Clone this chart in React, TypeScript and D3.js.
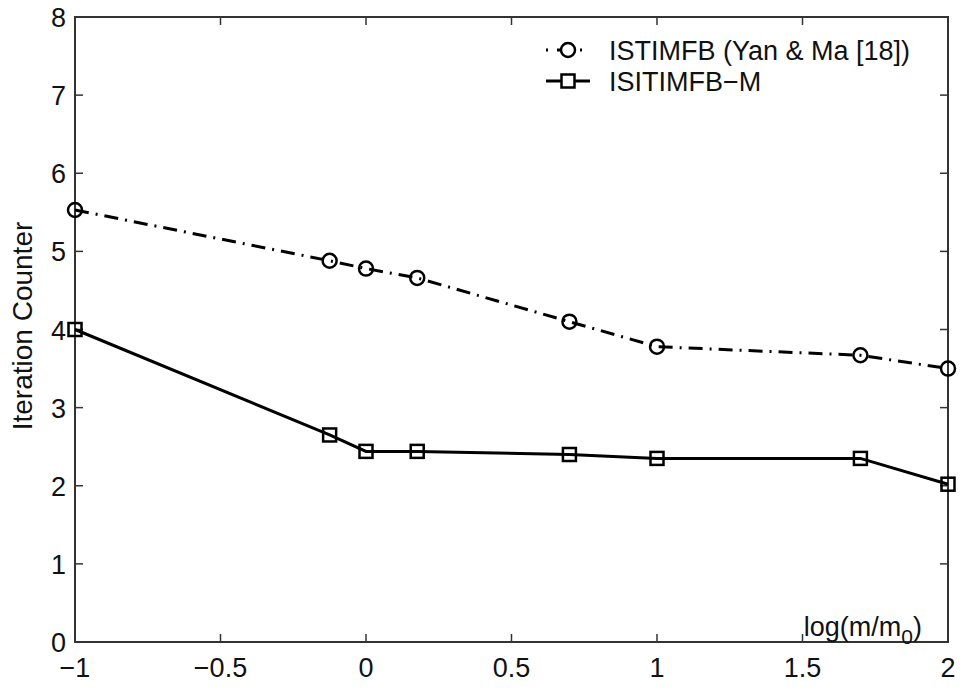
import React from "react";
import * as d3 from "d3";

const xValues = [-1, -0.125, 0, 0.176, 0.699, 1, 1.699, 2];
const seriesYan = [5.53, 4.88, 4.78, 4.66, 4.1, 3.78, 3.67, 3.5];
const seriesM = [4.0, 2.65, 2.44, 2.44, 2.4, 2.35, 2.35, 2.02];
const xTicks = [-1, -0.5, 0, 0.5, 1, 1.5, 2];
const yTicks = [0, 1, 2, 3, 4, 5, 6, 7, 8];
const legendLabels = ["ISTIMFB (Yan & Ma [18])", "ISITIMFB\u2212M"];

const W = 960, H = 690;
const L = 75, R = 948, T = 17, B = 642;
const font = "Liberation Sans, Arial, sans-serif";
const FS = 27;

export default function App() {
  const x = d3.scaleLinear().domain([-1, 2]).range([L, R]);
  const y = d3.scaleLinear().domain([0, 8]).range([B, T]);
  const line = d3.line<[number, number]>().x(d => x(d[0])).y(d => y(d[1]));
  const ptsA = xValues.map((v, i) => [v, seriesYan[i]] as [number, number]);
  const ptsB = xValues.map((v, i) => [v, seriesM[i]] as [number, number]);
  const fmt = (v: number) => (v < 0 ? "\u2212" + Math.abs(v) : String(v));
  const dash = "14,7,2,7";
  return (
    <svg width={W} height={H} style={{ position: "absolute", left: 0, top: 0, background: "#fff" }}>
      <rect x={0} y={0} width={W} height={H} fill="#fff" />
      {xTicks.map(t => (
        <g key={"x" + t}>
          <line x1={x(t)} x2={x(t)} y1={B} y2={B - 8} stroke="#333" strokeWidth={1.5} />
          <line x1={x(t)} x2={x(t)} y1={T} y2={T + 8} stroke="#333" strokeWidth={1.5} />
          <text x={x(t)} y={677} fontSize={FS} fontFamily={font} textAnchor="middle" fill="#111">{fmt(t)}</text>
        </g>
      ))}
      {yTicks.map(t => (
        <g key={"y" + t}>
          <line x1={L} x2={L + 8} y1={y(t)} y2={y(t)} stroke="#333" strokeWidth={1.5} />
          <line x1={R} x2={R - 8} y1={y(t)} y2={y(t)} stroke="#333" strokeWidth={1.5} />
          <text x={L - 9} y={y(t) + 10} fontSize={FS} fontFamily={font} textAnchor="end" fill="#111">{t}</text>
        </g>
      ))}
      <rect x={L} y={T} width={R - L} height={B - T} fill="none" stroke="#333" strokeWidth={2} />
      <path d={line(ptsA) || ""} fill="none" stroke="#000" strokeWidth={3} strokeDasharray={dash} />
      <path d={line(ptsB) || ""} fill="none" stroke="#000" strokeWidth={3} />
      {ptsA.map((p, i) => (
        <circle key={"c" + i} cx={x(p[0])} cy={y(p[1])} r={7} fill="none" stroke="#000" strokeWidth={2.5} />
      ))}
      {ptsB.map((p, i) => (
        <rect key={"s" + i} x={x(p[0]) - 6.5} y={y(p[1]) - 6.5} width={13} height={13} fill="none" stroke="#000" strokeWidth={2.5} />
      ))}
      <line x1={546} x2={590} y1={50} y2={50} stroke="#000" strokeWidth={3} strokeDasharray="2,9,14,9" />
      <circle cx={568} cy={50} r={7} fill="#fff" stroke="#000" strokeWidth={2.5} />
      <text x={609} y={60} fontSize={FS} fontFamily={font} fill="#111">{legendLabels[0]}</text>
      <line x1={546} x2={590} y1={81} y2={81} stroke="#000" strokeWidth={3} />
      <rect x={561.5} y={74.5} width={13} height={13} fill="#fff" stroke="#000" strokeWidth={2.5} />
      <text x={609} y={91} fontSize={FS} fontFamily={font} fill="#111">{legendLabels[1]}</text>
      <text x={922} y={636} fontSize={FS} fontFamily={font} fill="#111" textAnchor="end">
        log(m/m<tspan dy={8} fontSize={21}>0</tspan><tspan dy={-8}>)</tspan>
      </text>
      <text transform={`translate(32,${326}) rotate(-90)`} fontSize={28} fontFamily={font} textAnchor="middle" fill="#111">Iteration Counter</text>
    </svg>
  );
}
